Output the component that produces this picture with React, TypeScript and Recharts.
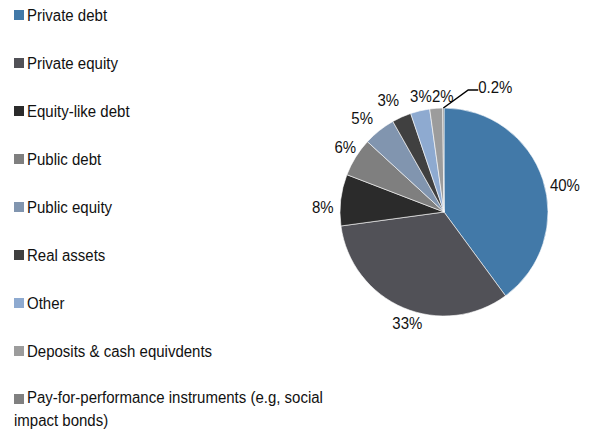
import React from 'react';
import { PieChart, Pie, Cell } from 'recharts';

const categories = [
  'Private debt',
  'Private equity',
  'Equity-like debt',
  'Public debt',
  'Public equity',
  'Real assets',
  'Other',
  'Deposits & cash equivdents',
  'Pay-for-performance instruments (e.g, social impact bonds)',
];
const shares = [40, 33, 8, 6, 5, 3, 3, 2, 0.2];
const shareLabels = ['40%', '33%', '8%', '6%', '5%', '3%', '3%', '2%', '0.2%'];

const COLORS = ['#4279a8', '#515157', '#2b2b2b', '#7f7f7f', '#8195af', '#404040', '#8eaad0', '#9c9c9c', '#808080'];
const LABEL_NUDGE: [number, number][] = [
  [5, 11], [11, -2], [0, 9], [5, -1], [-6, 1], [-6, -1], [5, 2], [8, 5], [52, -3],
];

const data = categories.map((name, i) => ({ name, value: shares[i], label: shareLabels[i] }));

const FONT = '"Liberation Sans", Arial, sans-serif';
const RAD = Math.PI / 180;
const STRETCH = 1.15;

const LabelText = ({ x, y, text }: { x: number; y: number; text: string }) => (
  <text
    x={x}
    y={y}
    textAnchor="middle"
    dominantBaseline="central"
    fontSize={15}
    fontFamily={FONT}
    fill="#111"
    transform={`translate(0 ${y}) scale(1 ${STRETCH}) translate(0 ${-y})`}
  >
    {text}
  </text>
);

const renderLabel = (props: any) => {
  const { cx, cy, midAngle, outerRadius, index } = props;
  const R = outerRadius + 18;
  const [nx, ny] = LABEL_NUDGE[index] || [0, 0];
  const x = cx + R * Math.cos(-midAngle * RAD) + nx;
  const y = cy + R * Math.sin(-midAngle * RAD) + ny;
  const text = data[index].label;
  if (index === 8) {
    const ex = cx + outerRadius * Math.cos(-midAngle * RAD);
    const ey = cy + outerRadius * Math.sin(-midAngle * RAD);
    const lx = x - 17;
    return (
      <g>
        <polyline
          points={`${ex},${ey} ${lx - 10},${y + 3} ${lx},${y + 3}`}
          fill="none"
          stroke="#000"
          strokeWidth={1.5}
        />
        <LabelText x={x} y={y} text={text} />
      </g>
    );
  }
  return <LabelText x={x} y={y} text={text} />;
};

const LegendBlock = () => (
  <div style={{ position: 'absolute', left: 0, top: 0, width: 330, height: 429, fontFamily: FONT, fontSize: 15, color: '#111' }}>
    {data.map((d, i) => (
      <div
        key={d.name}
        style={{ position: 'absolute', left: 14, top: 5 + 48 * i, width: 310, display: 'flex', alignItems: 'flex-start', lineHeight: '20px' }}
      >
        <span style={{ display: 'inline-block', width: 10, height: 10, background: COLORS[i], marginTop: 5, marginRight: 3, flex: '0 0 auto' }} />
        <span style={{ display: 'inline-block', transform: `scaleY(${STRETCH})`, transformOrigin: '0 50%' }}>
          {i === 8 ? (
            <>
              Pay-for-performance instruments (e.g, social
              <br />
              <span style={{ marginLeft: -13 }}>impact bonds)</span>
            </>
          ) : (
            d.name
          )}
        </span>
      </div>
    ))}
  </div>
);

export default function App() {
  return (
    <div style={{ position: 'absolute', left: 0, top: 0, width: 589, height: 429, background: '#fff' }}>
      <PieChart width={589} height={429} margin={{ top: 0, right: 0, bottom: 0, left: 0 }}>
        <Pie
          data={data}
          dataKey="value"
          nameKey="name"
          cx={444}
          cy={212}
          outerRadius={104}
          startAngle={90}
          endAngle={-270}
          stroke="#ffffff"
          strokeWidth={0.6}
          label={renderLabel}
          labelLine={false}
          isAnimationActive={false}
        >
          {data.map((d, i) => (
            <Cell key={d.name} fill={COLORS[i]} />
          ))}
        </Pie>
      </PieChart>
      <LegendBlock />
    </div>
  );
}
